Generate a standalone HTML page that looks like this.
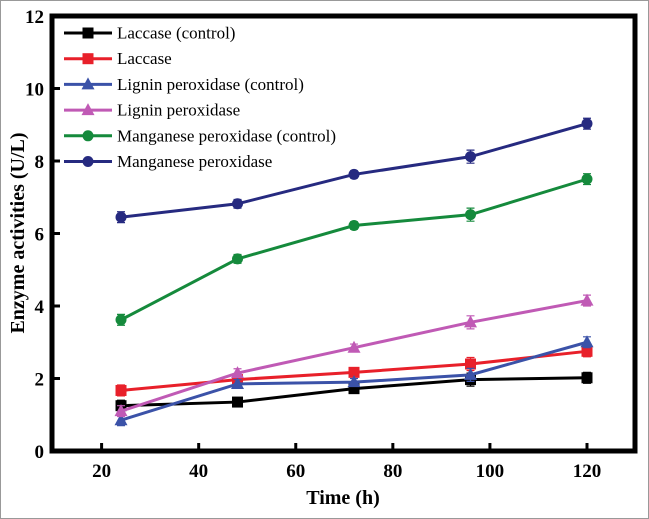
<!DOCTYPE html>
<html><head><meta charset="utf-8"><style>
body{margin:0;background:#fff}
svg{display:block;font-family:"Liberation Serif",serif}
</style></head><body>
<svg width="649" height="519">
<rect x="0.5" y="0.5" width="648" height="518" fill="#fff" stroke="#999"/>
<g id="marks"></g>
<rect x="52" y="16" width="583" height="435" fill="none" stroke="#000" stroke-width="5"/>
<g id="axes"></g>
<text x="343" y="504" font-size="20" font-weight="bold" text-anchor="middle">Time (h)</text>
<text transform="translate(24,233) rotate(-90)" font-size="20" font-weight="bold" text-anchor="middle">Enzyme activities (U/L)</text>
<g id="legend"></g>
</svg>
<script>
const times=[24,48,72,96,120];
const names=["Laccase (control)","Laccase","Lignin peroxidase (control)","Lignin peroxidase","Manganese peroxidase (control)","Manganese peroxidase"];
const lacC=[1.25,1.35,1.72,1.97,2.02];
const lac=[1.67,1.97,2.17,2.4,2.75];
const lipC=[0.85,1.85,1.9,2.1,3.0];
const lip=[1.1,2.15,2.85,3.55,4.15];
const mnpC=[3.62,5.3,6.22,6.52,7.5];
const mnp=[6.45,6.82,7.63,8.12,9.03];
const errs=[0.15,0.12,0.1,0.18,0.15];
const xTicks=[20,40,60,80,100,120];
const yTicks=[0,2,4,6,8,10,12];
const NS="http://www.w3.org/2000/svg";
const xs=v=>101.6+(v-20)*4.854;
const ys=v=>451-v*36.25;
function mk(t,a,p){const e=document.createElementNS(NS,t);for(const k in a)e.setAttribute(k,a[k]);p.appendChild(e);return e;}
const series=[lacC,lac,lipC,lip,mnpC,mnp];
const colors=["#000","#e8202a","#3b52a8","#c05ab5","#158a3c","#262a80"];
const shapes=["sq","sq","tri","tri","circ","circ"];
function marker(g,s,x,y,c){
  let e;
  if(s==="sq")e=mk("rect",{x:x-5.5,y:y-5.5,width:11,height:11,fill:c},g);
  else if(s==="tri")e=mk("polygon",{points:`${x},${y-7} ${x-6.5},${y+5} ${x+6.5},${y+5}`,fill:c},g);
  else e=mk("circle",{cx:x,cy:y,r:5.5,fill:c},g);
  return e;
}
const marks=document.getElementById("marks");
series.forEach((d,i)=>{
  const g=mk("g",{},marks);
  
  
  const pl=mk("polyline",{points:d.map((v,j)=>xs(times[j])+","+ys(v)).join(" "),fill:"none",stroke:colors[i],"stroke-width":3},g);
  
  
  d.forEach((v,j)=>{
    const x=xs(times[j]),y=ys(v),e=errs[j]*36.25;
    mk("path",{d:`M${x},${y-e}V${y+e}M${x-4},${y-e}H${x+4}M${x-4},${y+e}H${x+4}`,stroke:colors[i],"stroke-width":1.2,fill:"none"},g);
    const m=marker(g,shapes[i],x,y,colors[i]);
    
    
  });
});
const axes=document.getElementById("axes");
xTicks.forEach(t=>{
  const x=xs(t);
  mk("line",{x1:x,x2:x,y1:451,y2:443,stroke:"#000","stroke-width":3},axes);
  const tx=mk("text",{x:x,y:477,"font-size":19,"font-weight":"bold","text-anchor":"middle"},axes);
  tx.textContent=t;
  
  
});
yTicks.forEach(t=>{
  const y=ys(t);
  mk("line",{x1:52,x2:60,y1:y,y2:y,stroke:"#000","stroke-width":3},axes);
  const tx=mk("text",{x:44,y:y+7,"font-size":19,"font-weight":"bold","text-anchor":"end"},axes);
  tx.textContent=t;
  
  
});
const lg=document.getElementById("legend");
names.forEach((n,i)=>{
  const y=33+i*25.7;
  const g=mk("g",{},lg);
  
  
  mk("line",{x1:64,x2:112,y1:y,y2:y,stroke:colors[i],"stroke-width":3},g);
  marker(g,shapes[i],88,y,colors[i]);
  const tx=mk("text",{x:117,y:y+5.5,"font-size":17},g);
  tx.textContent=n;
});
</script>
</body></html>
